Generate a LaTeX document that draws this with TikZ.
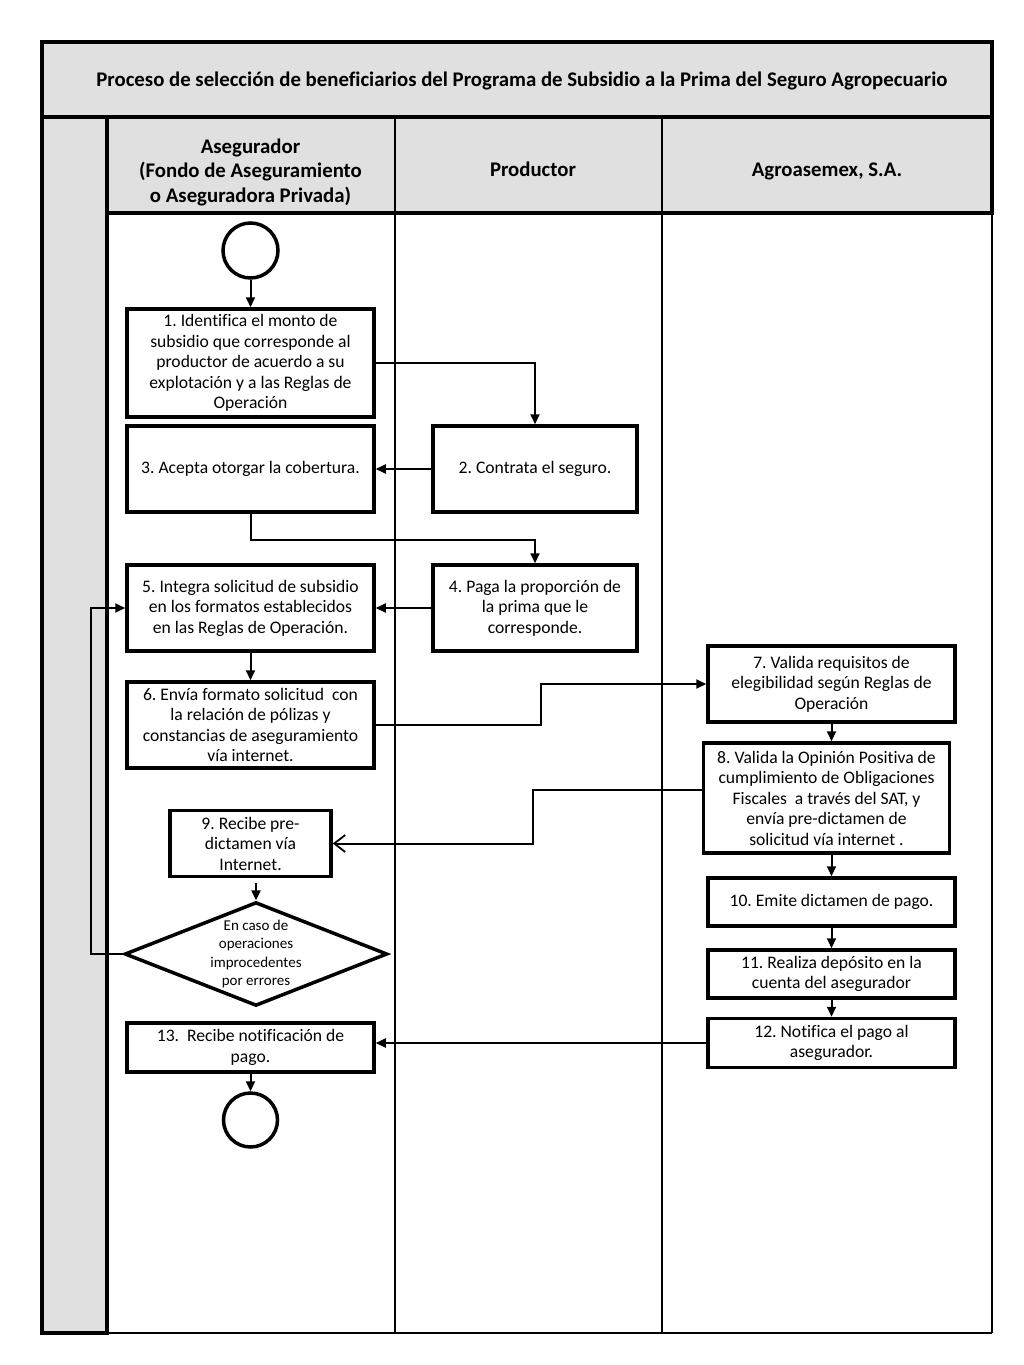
\documentclass[tikz,border=0pt]{standalone}
\usepackage{fontspec}
\setmainfont{Carlito}[RawFeature=-liga]
\usetikzlibrary{arrows.meta,shapes.geometric,calc}
\definecolor{lanegray}{HTML}{E0E0E0}
\tikzset{
  box/.style={draw,line width=3.5pt,rectangle,align=center,inner sep=1pt,font=\fontsize{17.6}{20.5}\selectfont},
  term/.style={draw,line width=3.5pt,circle,minimum size=55pt,inner sep=0pt},
  arr/.style={line width=2pt,-{Triangle[length=10pt,width=9pt]}},
  openarr/.style={line width=2pt,-{Straight Barb[length=11pt,width=17pt,line width=1.8pt]}},
  hdr/.style={font=\bfseries\fontsize{20.8}{24.5}\selectfont,align=center},
  lane/.style={line width=1.5pt},
  frame/.style={draw,line width=3.5pt,fill=lanegray}
}
\frenchspacing
\begin{document}
\begin{tikzpicture}[x=1pt,y=-1pt]
\useasboundingbox (0,0) rectangle (1024,1365);
% frame
\draw[frame] (42,42) rectangle (992,117);
\draw[frame] (42,117) rectangle (107,1333);
\draw[frame] (107,117) rectangle (992,213);
\draw[lane] (395,117) -- (395,1333);
\draw[lane] (662,117) -- (662,1333);
\draw[lane] (992,213) -- (992,1333);
\draw[line width=2pt] (107,1333) -- (992,1333);
\draw[line width=3.5pt] (42,117) -- (992,117);
\draw[line width=3.5pt] (107,213) -- (992,213);
% headers
\node[hdr] (title) at (522,81) {Proceso de selección de beneficiarios del Programa de Subsidio a la Prima del Seguro Agropecuario};
\node[hdr] (h1) at (250.5,172) {Asegurador\\(Fondo de Aseguramiento\\o Aseguradora Privada)};
\node[hdr,anchor=base] (h2) at (533,176) {Productor};
\node[hdr,anchor=base] (h3) at (827,176) {Agroasemex, S.A.};
% nodes
\node[term] (start) at (250.5,250.5) {};
\node[box,minimum width=247pt,minimum height=108pt] (b1) at (250.5,363) {1. Identifica el monto de\\subsidio que corresponde al\\productor de acuerdo a su\\explotación y a las Reglas de\\Operación};
\node[box,minimum width=247pt,minimum height=86pt] (b3) at (250.5,469) {3. Acepta otorgar la cobertura.};
\node[box,minimum width=204pt,minimum height=86pt] (b2) at (535,469) {2. Contrata el seguro.};
\node[box,minimum width=247pt,minimum height=86pt] (b5) at (250.5,608) {5. Integra solicitud de subsidio\\en los formatos establecidos\\en las Reglas de Operación.};
\node[box,minimum width=204pt,minimum height=86pt] (b4) at (535,608) {4. Paga la proporción de\\la prima que le\\corresponde.};
\node[box,minimum width=247pt,minimum height=86pt] (b6) at (250.5,725) {6. Envía formato solicitud\ \ con\\la relación de pólizas y\\constancias de aseguramiento\\vía internet.};
\node[box,minimum width=247pt,minimum height=76pt] (b7) at (831.5,684) {7. Valida requisitos de\\elegibilidad según Reglas de\\Operación};
\node[box,minimum width=246pt,minimum height=110pt] (b8) at (826.5,798) {8. Valida la Opinión Positiva de\\cumplimiento de Obligaciones\\Fiscales\ \ a través del SAT, y\\envía pre-dictamen de\\solicitud vía internet .};
\node[box,minimum width=161pt,minimum height=66pt] (b9) at (250.5,843.5) {9. Recibe pre-\\dictamen vía\\Internet.};
\node[draw,line width=3.5pt,diamond,aspect=2.53,minimum width=258pt,minimum height=102pt,inner sep=0pt,align=center,font=\fontsize{15}{18.3}\selectfont] (d) at (256,954) {En caso de\\operaciones\\improcedentes\\por errores};
\node[box,minimum width=247pt,minimum height=48pt] (b10) at (831.5,902) {10. Emite dictamen de pago.};
\node[box,minimum width=247pt,minimum height=48pt] (b11) at (831.5,974) {11. Realiza depósito en la\\cuenta del asegurador};
\node[box,minimum width=247pt,minimum height=49pt] (b12) at (831.5,1043) {12. Notifica el pago al\\asegurador.};
\node[box,minimum width=247pt,minimum height=49pt] (b13) at (250.5,1047.5) {13.\ \ Recibe notificación de\\pago.};
\node[term,minimum size=54pt] (end) at (250.5,1120) {};
% connectors
\draw[arr] (start) -- (b1);
\draw[arr] (b1.east) -| (b2.north);
\draw[arr] (b2) -- (b3);
\draw[arr] (b3.south) -- ++(0,26) -| (b4.north);
\draw[arr] (b4) -- (b5);
\draw[arr] (b5) -- (b6);
\draw[arr] (b6.east) -- (541,725) |- (b7.west);
\draw[arr] (b7) -- (b8.north -| b7.south);
\draw[openarr] ([yshift=8pt]b8.west) -- (533,790) |- (b9.east);
\draw[arr] ([yshift=-5pt]b9.south -| d.north) -- (d.north);
\draw[arr] (d.west) -- ++(-32,0) |- (b5.west);
\draw[arr] (b8.south -| b10.north) -- (b10.north);
\draw[arr] (b10) -- (b11);
\draw[arr] (b11) -- (b12);
\draw[arr] (b12.west) -- (b13.east |- b12.west);
\draw[arr] (b13) -- (end);
\end{tikzpicture}
\end{document}
